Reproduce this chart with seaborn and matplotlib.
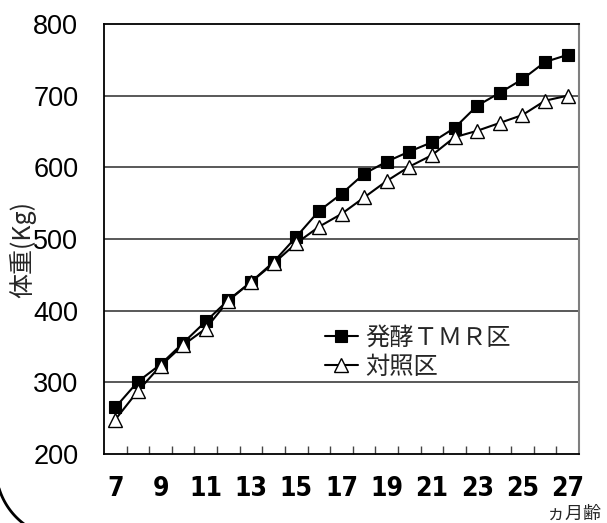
import matplotlib
matplotlib.use("Agg")
import matplotlib.pyplot as plt
import seaborn as sns
import pandas as pd
import numpy as np
from matplotlib.lines import Line2D

# Body weight by age in months
months = list(range(7, 28))
tmr_weight = [265, 301, 325, 355, 385, 415, 440, 468, 503, 539, 563,
              591, 608, 622, 635, 655, 686, 704, 723, 747, 757]
control_weight = [248, 288, 323, 352, 375, 414, 440, 466, 494, 517, 535,
                  558, 581, 601, 617, 642, 651, 662, 673, 693, 700]
series_names = ["発酵ＴＭＲ区", "対照区"]
x_tick_values = list(range(7, 28, 2))
x_tick_labels = [str(m) for m in x_tick_values]
y_ticks = [200, 300, 400, 500, 600, 700, 800]
y_label = "体重(Kg)"
x_unit = "ヵ月齢"

sns.set_theme(style="white")
plt.rcParams["font.family"] = ["Liberation Sans", "Noto Sans CJK JP", "DejaVu Sans"]
cjk = ["Noto Sans CJK JP", "DejaVu Sans"]

W, H = 607, 523
fig = plt.figure(figsize=(W / 100, H / 100), dpi=100)
ax = fig.add_axes([104 / W, 1 - 454 / H, 475 / W, 430 / H])

df_tmr = pd.DataFrame({"month": months, "weight": tmr_weight})
df_ctl = pd.DataFrame({"month": months, "weight": control_weight})

sns.lineplot(data=df_tmr, x="month", y="weight", ax=ax, color="black",
             linewidth=1.5, marker="s", markersize=9, markerfacecolor="black",
             markeredgecolor="black", markeredgewidth=0.8, label=series_names[0],
             zorder=3)
sns.lineplot(data=df_ctl, x="month", y="weight", ax=ax, color="black",
             linewidth=1.5, marker="^", markersize=10.5, markerfacecolor="white",
             markeredgecolor="black", markeredgewidth=1.0, label=series_names[1],
             zorder=4)

ax.set_xlim(6.5, 27.5)
ax.set_ylim(200, 800)
ax.set_xlabel("")
ax.set_ylabel("")

# horizontal grid lines
for v in y_ticks[1:-1]:
    ax.axhline(v, color="#2b2b2b", linewidth=1.1, zorder=1)

ax.set_yticks(y_ticks)
ax.set_yticklabels([str(v) for v in y_ticks], fontsize=19.5)
ax.set_xticks(x_tick_values)
ax.set_xticklabels(x_tick_labels, fontsize=19, fontweight="bold",
                   family="DejaVu Sans", fontstretch="condensed")
ax.tick_params(axis="y", length=0, pad=18.5, labelcolor="black")
ax.tick_params(axis="x", which="major", length=0, pad=16, labelcolor="black")

# category boundary ticks, pointing inward
ax.set_xticks([m + 0.5 for m in months[:-1]], minor=True)
ax.tick_params(axis="x", which="minor", direction="in", length=5.8,
               width=1.0, color="#444444", bottom=True)

for side in ["left", "bottom", "top"]:
    ax.spines[side].set_color("black")
    ax.spines[side].set_linewidth(1.3)
ax.spines["right"].set_color("#7f7f7f")
ax.spines["right"].set_linewidth(1.5)

handles, labels = ax.get_legend_handles_labels()
ax.legend(handles, labels, loc="upper left",
          bbox_to_anchor=(325 / W, 1 - 325 / H), bbox_transform=fig.transFigure,
          frameon=False, prop={"family": cjk, "size": 17.5},
          handlelength=1.35, handletextpad=0.3, labelspacing=0.12,
          borderpad=0, borderaxespad=0)

fig.text(23 / W, 1 - 250 / H, y_label, rotation=90, ha="center", va="center",
         fontsize=18, family=cjk)
fig.text(574 / W, 1 - 514 / H, x_unit, ha="center", va="center",
         fontsize=13, family=cjk)

# curved frame edge in the lower-left corner
t = np.linspace(np.deg2rad(180), np.deg2rad(265), 60)
cx, cy, r = 66, 468, 70
px = cx + r * np.cos(t)
py = cy - r * np.sin(t)
keep = (px >= -2) & (py <= H + 2)
fig.add_artist(Line2D(px[keep] / W, 1 - py[keep] / H, color="black",
                      linewidth=2.0, transform=fig.transFigure))

fig.savefig("out.png", dpi=100, facecolor="white")
